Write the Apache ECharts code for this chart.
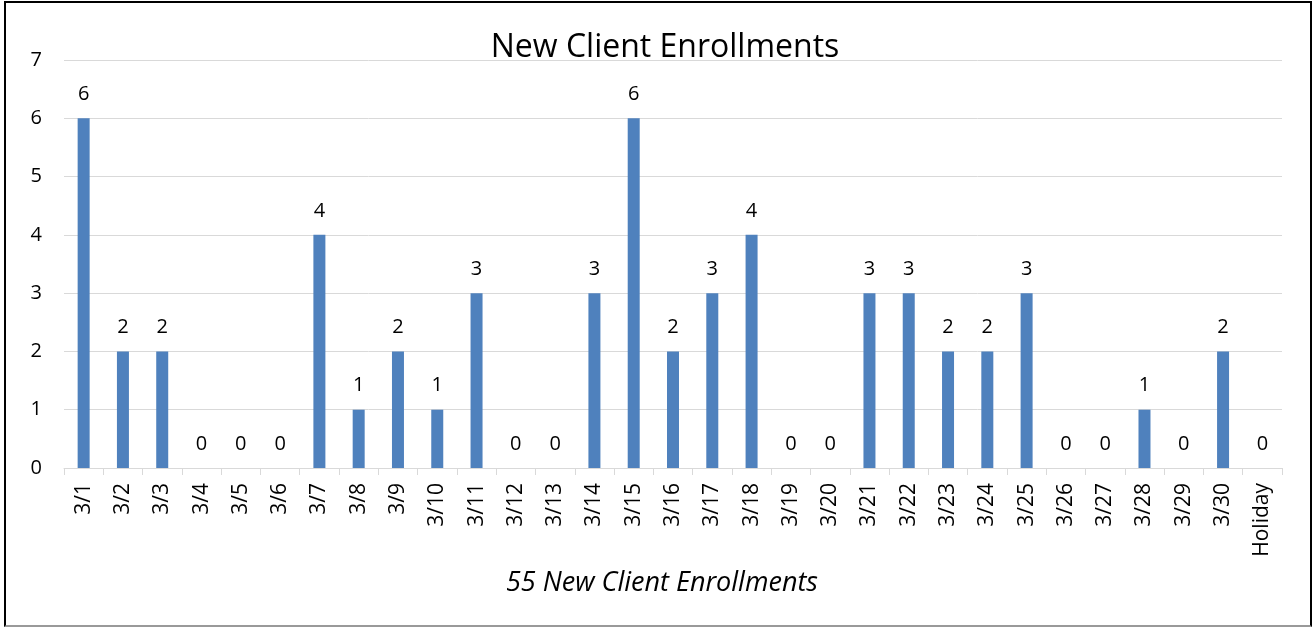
<!DOCTYPE html>
<html>
<head>
<meta charset="utf-8">
<script src="https://cdn.jsdelivr.net/npm/echarts@6/dist/echarts.min.js"></script>
<style>
  html, body { margin: 0; padding: 0; background: #fff; }
  #frame { position: absolute; left: 4px; top: 1px; width: 1308px; height: 626px; border: 2px solid #000; border-bottom-color: #999; box-sizing: border-box; }
  #main { position: absolute; left: 0; top: 0; width: 1315px; height: 629px; }
</style>
</head>
<body>
<div id="frame"></div>
<div id="main"></div>
<script>
// 日期和数量
var days = ['3/1', '3/2', '3/3', '3/4', '3/5', '3/6', '3/7', '3/8', '3/9', '3/10',
  '3/11', '3/12', '3/13', '3/14', '3/15', '3/16', '3/17', '3/18', '3/19', '3/20',
  '3/21', '3/22', '3/23', '3/24', '3/25', '3/26', '3/27', '3/28', '3/29', '3/30', 'Holiday'];
var enrollments = [6, 2, 2, 0, 0, 0, 4, 1, 2, 1, 3, 0, 0, 3, 6, 2, 3, 4, 0, 0,
  3, 3, 2, 2, 3, 0, 0, 1, 0, 2, 0];
var titleText = 'New Client Enrollments';
var footText = '55 New Client Enrollments';

var font = "'Open Sans', 'Noto Sans', sans-serif";
var chart = echarts.init(document.getElementById('main'), null, { renderer: 'canvas' });
var option = {
  animation: false,
  title: [{
    text: titleText,
    left: 660,
    top: 27,
    textAlign: 'center',
    textStyle: { fontFamily: font, fontSize: 32, fontWeight: 'normal', color: '#000' }
  }, {
    text: footText,
    left: 657,
    top: 565,
    textAlign: 'center',
    textStyle: { fontFamily: font, fontSize: 27, fontStyle: 'italic', fontWeight: 'normal', color: '#000' }
  }],
  grid: { left: 64, right: 33, top: 60, bottom: 161 },
  xAxis: {
    type: 'category',
    data: days,
    axisLine: { lineStyle: { color: '#d9d9d9', width: 1 } },
    axisTick: { show: true, length: 7, lineStyle: { color: '#d9d9d9' } },
    axisLabel: { rotate: 90, interval: 0, margin: 15, fontFamily: font, fontSize: 21, color: '#000' }
  },
  yAxis: {
    type: 'value',
    min: 0,
    max: 7,
    interval: 1,
    axisLine: { show: false },
    axisTick: { show: false },
    splitLine: { lineStyle: { color: '#d9d9d9', width: 1 } },
    axisLabel: { margin: 22, fontFamily: font, fontSize: 20, color: '#000' }
  },
  series: [{
    type: 'bar',
    data: enrollments,
    barWidth: 12,
    itemStyle: { color: '#4F81BD' },
    label: {
      show: true,
      position: 'top',
      distance: 14,
      fontFamily: font,
      fontSize: 20,
      color: '#000'
    }
  }]
};
chart.setOption(option);
</script>
</body>
</html>
